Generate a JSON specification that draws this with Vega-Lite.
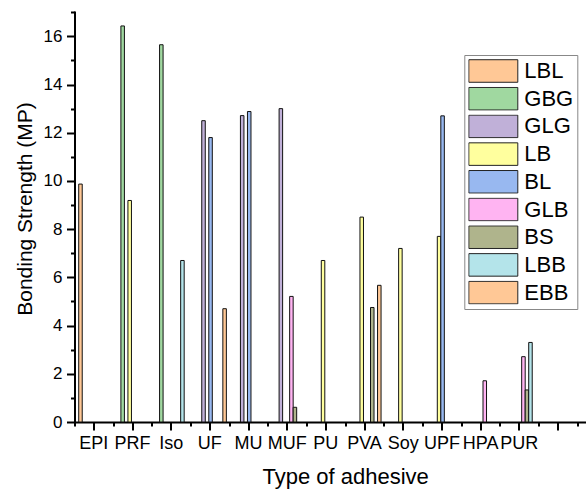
{
  "$schema": "https://vega.github.io/schema/vega-lite/v6.json",
  "width": 511.5,
  "height": 411,
  "autosize": {"type": "none"},
  "padding": {"left": 74.5, "top": 11, "right": 0, "bottom": 68},
  "background": "white",
  "config": {
    "view": {"stroke": null},
    "font": "Liberation Sans",
    "axis": {"labelFont": "Liberation Sans", "titleFont": "Liberation Sans", "labelColor": "black", "titleColor": "black", "titleFontWeight": "normal", "grid": false}
  },
  "data": {
    "values": [
      {"adhesive": "EPI", "group": "LBL", "value": 9.87},
      {"adhesive": "PRF", "group": "GBG", "value": 16.43},
      {"adhesive": "PRF", "group": "LB", "value": 9.19},
      {"adhesive": "Iso", "group": "GBG", "value": 15.65},
      {"adhesive": "Iso", "group": "LBB", "value": 6.7},
      {"adhesive": "UF", "group": "GLG", "value": 12.5},
      {"adhesive": "UF", "group": "BL", "value": 11.8},
      {"adhesive": "UF", "group": "EBB", "value": 4.7},
      {"adhesive": "MU", "group": "GLG", "value": 12.71},
      {"adhesive": "MU", "group": "BL", "value": 12.88},
      {"adhesive": "MUF", "group": "GLG", "value": 13.0},
      {"adhesive": "MUF", "group": "GLB", "value": 5.21},
      {"adhesive": "MUF", "group": "BS", "value": 0.61},
      {"adhesive": "PU", "group": "LB", "value": 6.7},
      {"adhesive": "PVA", "group": "LB", "value": 8.5},
      {"adhesive": "PVA", "group": "BS", "value": 4.75},
      {"adhesive": "PVA", "group": "EBB", "value": 5.67},
      {"adhesive": "Soy", "group": "LB", "value": 7.2},
      {"adhesive": "UPF", "group": "LB", "value": 7.7},
      {"adhesive": "UPF", "group": "BL", "value": 12.7},
      {"adhesive": "HPA", "group": "GLB", "value": 1.71},
      {"adhesive": "PUR", "group": "GLB", "value": 2.71},
      {"adhesive": "PUR", "group": "BS", "value": 1.33},
      {"adhesive": "PUR", "group": "LBB", "value": 3.3}
    ]
  },
  "resolve": {"axis": {"x": "independent", "y": "independent"}},
  "layer": [
    {
      "mark": {"type": "bar", "stroke": "#111111", "strokeWidth": 1},
      "encoding": {
        "x": {
          "field": "adhesive", "type": "nominal",
          "scale": {"domain": ["EPI", "PRF", "Iso", "UF", "MU", "MUF", "PU", "PVA", "Soy", "UPF", "HPA", "PUR", " ", "  "], "range": [0, 541.4], "paddingInner": 0, "paddingOuter": 0},
          "axis": {"orient": "bottom", "title": "Type of adhesive", "titleFontSize": 22, "titleBaseline": "alphabetic", "titleY": 61, "labelAngle": 0, "labelFontSize": 18, "labelBaseline": "alphabetic", "labelPadding": 18, "tickSize": 8, "tickWidth": 2, "tickColor": "black", "domainWidth": 2, "domainColor": "black", "labelOverlap": false}
        },
        "xOffset": {
          "field": "group", "type": "nominal",
          "scale": {"domain": ["LBL", "GBG", "GLG", "LB", "BL", "GLB", "BS", "LBB", "EBB"], "paddingInner": 0, "paddingOuter": 1.02, "align": 0.6}
        },
        "y": {
          "field": "value", "type": "quantitative", "stack": null,
          "scale": {"domain": [0, 17.05], "nice": false},
          "axis": {"orient": "left", "title": "Bonding Strength (MP)", "titleFontSize": 21, "titleAngle": -90, "titleBaseline": "alphabetic", "titleAlign": "center", "titleX": -42.8, "titleY": 197.5, "values": [0, 2, 4, 6, 8, 10, 12, 14, 16], "labelFontSize": 17, "labelPadding": 4.5, "tickSize": 8, "tickWidth": 2, "tickColor": "black", "domainWidth": 2, "domainColor": "black"}
        },
        "color": {
          "field": "group", "type": "nominal",
          "scale": {"domain": ["LBL", "GBG", "GLG", "LB", "BL", "GLB", "BS", "LBB", "EBB"], "range": ["#FFC896", "#A0D8A0", "#C0B0D8", "#FFFF9E", "#98B8F0", "#FFB4F2", "#AFB48C", "#B4E4EA", "#FFC896"]},
          "legend": {"orient": "none", "legendX": 389.8, "legendY": 44, "title": null, "symbolType": "M-1,-0.46H1V0.46H-1Z", "symbolSize": 2401, "symbolStrokeColor": "#222222", "symbolStrokeWidth": 1, "symbolOpacity": 1, "labelFontSize": 22, "labelFont": "Liberation Sans", "labelColor": "black", "labelOffset": 6, "clipHeight": 24, "rowPadding": 3.7, "padding": 4, "strokeColor": "#888888", "fillColor": "white"}
        }
      }
    },
    {
      "mark": {"type": "bar", "opacity": 0},
      "encoding": {
        "x": {
          "field": "adhesive", "type": "nominal",
          "axis": {"orient": "bottom", "title": null, "labels": false, "domain": false, "tickBand": "extent", "tickSize": 4, "tickWidth": 2, "tickColor": "black"}
        },
        "y": {
          "field": "value", "type": "quantitative", "stack": null,
          "axis": {"orient": "left", "title": null, "labels": false, "domain": false, "values": [1, 3, 5, 7, 9, 11, 13, 15, 17], "tickSize": 4, "tickWidth": 2, "tickColor": "black"}
        }
      }
    }
  ]
}
